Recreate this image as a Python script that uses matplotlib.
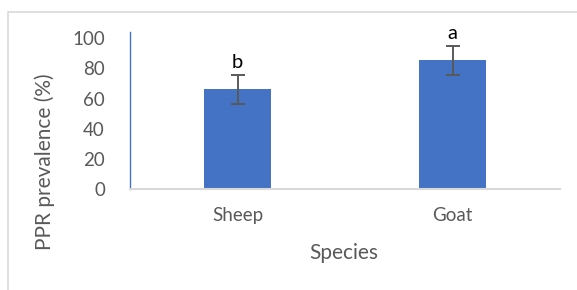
import matplotlib
matplotlib.use("Agg")
import matplotlib.pyplot as plt
from matplotlib.patches import Rectangle

species = ["Sheep", "Goat"]
prevalence = [66.2, 85.3]
errors = [9.6, 9.6]
letters = ["b", "a"]
yticks = [0, 20, 40, 60, 80, 100]

plt.rcParams['font.family'] = ['Lato', 'DejaVu Sans']

W, H = 577, 290
fig = plt.figure(figsize=(W / 100, H / 100), dpi=100)

# outer chart border (left and top visible)
fig.patches.append(Rectangle((8 / W, -0.1), 1.2, (290 - 12) / H + 0.1,
                             transform=fig.transFigure, fill=False,
                             edgecolor='#d9d9d9', linewidth=1.2))

ax = fig.add_axes([130 / W, (290 - 189) / H, (560 - 130) / W, (189 - 32.3) / H])
x = list(range(len(species)))
ax.bar(x, prevalence, width=0.31, color='#4472C4', zorder=2)
ax.errorbar(x, prevalence, yerr=errors, fmt='none', ecolor='#595959',
            elinewidth=1.4, capsize=5, capthick=1.4, zorder=3)
for xi, v, e, t in zip(x, prevalence, errors, letters):
    ax.annotate(t, (xi, v + e), xytext=(0, 3), textcoords='offset points',
                ha='center', va='bottom', fontsize=14.5, color='black')

ax.set_xlim(-0.5, 1.5)
ax.set_ylim(0, 104)
ax.set_yticks(yticks)
ax.set_xticks(x)
ax.set_xticklabels(species)
ax.tick_params(length=0, labelsize=13.5, labelcolor='#595959')
ax.tick_params(axis='y', pad=18)
ax.tick_params(axis='x', pad=13)
for s in ['top', 'right']:
    ax.spines[s].set_visible(False)
ax.spines['left'].set_color('#4472C4')
ax.spines['left'].set_linewidth(1.0)
ax.spines['bottom'].set_color('#d9d9d9')
ax.spines['bottom'].set_linewidth(1.5)

fig.text(344 / W, 1 - 253 / H, 'Species', ha='center', va='center',
         fontsize=15, color='#595959')
fig.text(45 / W, 1 - 162 / H, 'PPR prevalence (%)', ha='center', va='center',
         rotation=90, fontsize=15, color='#595959')

fig.savefig('out.png', dpi=100)
